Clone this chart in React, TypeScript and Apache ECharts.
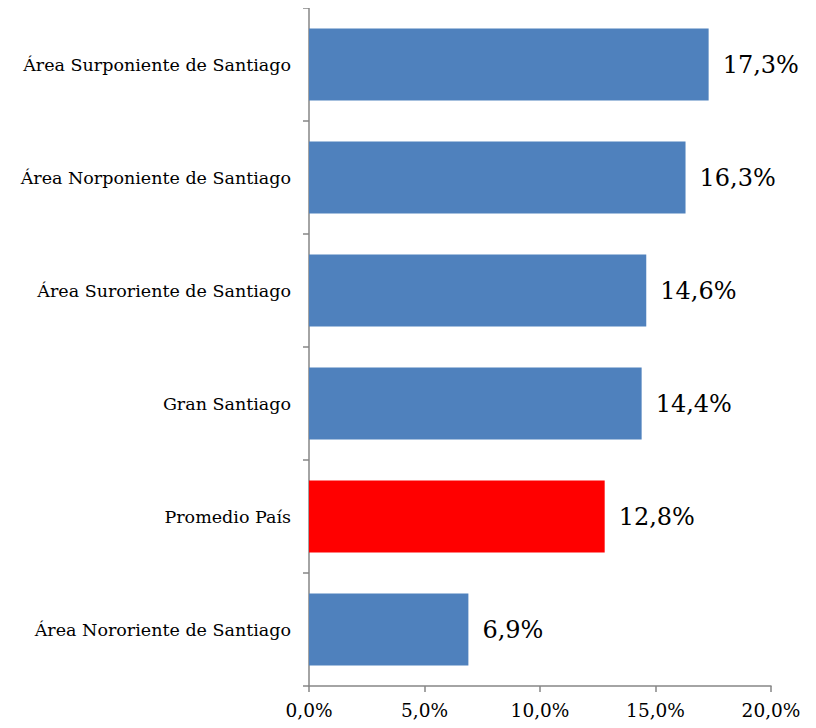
import React, { useEffect, useRef } from "react";
import * as echarts from "echarts";

const categories = [
  "Área Surponiente de Santiago",
  "Área Norponiente de Santiago",
  "Área Suroriente de Santiago",
  "Gran Santiago",
  "Promedio País",
  "Área Nororiente de Santiago",
];
const values = [17.3, 16.3, 14.6, 14.4, 12.8, 6.9];
const barColors = ["#4F81BD", "#4F81BD", "#4F81BD", "#4F81BD", "#FF0000", "#4F81BD"];
const xTicks = [0, 5, 10, 15, 20];

const fmt = (v: number) => v.toFixed(1).replace(".", ",") + "%";
const FONT = "'DejaVu Serif', 'Liberation Serif', serif";

export default function App() {
  const ref = useRef<HTMLDivElement>(null);
  useEffect(() => {
    if (!ref.current) return;
    const chart = echarts.init(ref.current, undefined, { renderer: "svg" });
    chart.setOption({
      animation: false,
      backgroundColor: "#ffffff",
      grid: { left: 301, right: 37, top: 0, bottom: 32, containLabel: false },
      xAxis: {
        type: "value",
        min: xTicks[0],
        max: xTicks[xTicks.length - 1],
        interval: 5,
        axisLine: { show: true, lineStyle: { color: "#868686", width: 1.5 } },
        axisTick: { show: true, length: 6, lineStyle: { color: "#868686", width: 1.5 } },
        splitLine: { show: false },
        axisLabel: {
          formatter: (v: number) => fmt(v),
          fontFamily: FONT,
          fontSize: 18.5,
          color: "#000",
          margin: 15,
        },
      },
      yAxis: {
        type: "category",
        data: categories,
        inverse: true,
        axisLine: { show: true, lineStyle: { color: "#868686", width: 1.5 } },
        axisTick: { show: true, length: 6, alignWithLabel: false, lineStyle: { color: "#868686", width: 1.5 } },
        axisLabel: {
          fontFamily: FONT,
          fontSize: 17.5,
          color: "#000",
          margin: 18,
        },
      },
      series: [
        {
          type: "bar",
          data: values.map((v, i) => ({ value: v, itemStyle: { color: barColors[i] } })),
          barWidth: 72,
          label: {
            show: true,
            position: "right",
            distance: 14,
            formatter: (p: any) => fmt(p.value),
            fontFamily: FONT,
            fontSize: 24,
            color: "#000",
          },
        },
      ],
    });
    return () => chart.dispose();
  }, []);
  return <div ref={ref} style={{ width: 800, height: 712 }} />;
}
